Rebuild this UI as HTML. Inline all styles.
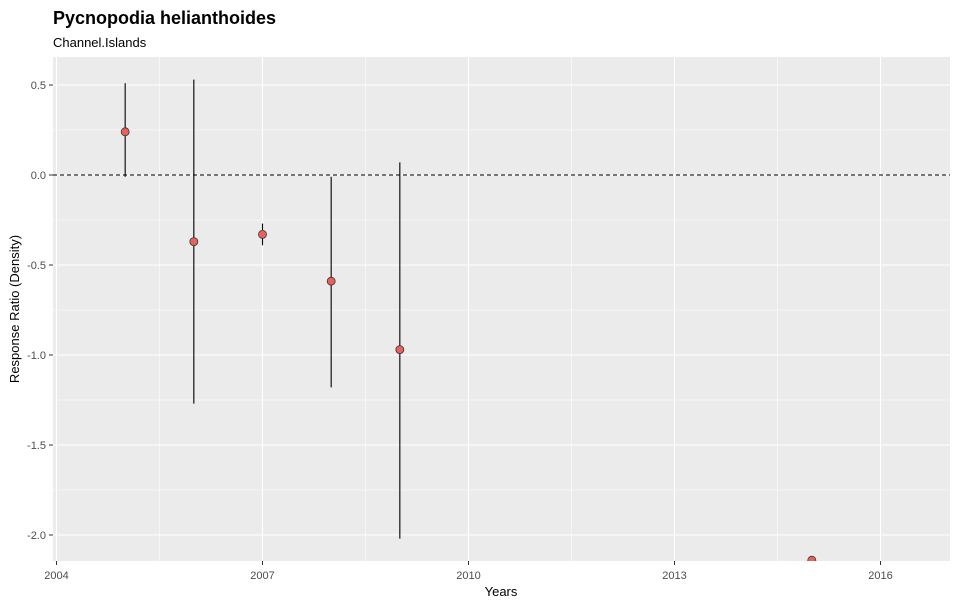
<!DOCTYPE html>
<html><head><meta charset="utf-8"><style>
body{margin:0;background:#fff;}
svg text{font-family:"Liberation Sans",sans-serif;}
</style></head><body>
<svg id="chart" width="958" height="606">
<text x="53" y="24" font-size="18" font-weight="bold" fill="#000">Pycnopodia helianthoides</text>
<text x="53" y="47" font-size="13" fill="#000">Channel.Islands</text>
<rect x="53" y="57" width="897" height="504" fill="#ebebeb"/>
<g id="grid"></g><g id="axes"></g><g id="marks"></g>
<text x="501" y="596" font-size="13" text-anchor="middle" fill="#000">Years</text>
<text transform="translate(19,309) rotate(-90)" font-size="13" text-anchor="middle" fill="#000">Response Ratio (Density)</text>
</svg>
<script>
const years=[2005,2006,2007,2008,2009,2015];
const means=[0.24,-0.37,-0.33,-0.59,-0.97,-2.14];
const lower=[-0.01,-1.27,-0.39,-1.18,-2.02,-2.14];
const upper=[0.51,0.53,-0.27,-0.01,0.07,-2.14];
const xTicks=[2004,2007,2010,2013,2016];
const yTicks=[0.5,0,-0.5,-1,-1.5,-2];
const yTickLabels=["0.5","0.0","-0.5","-1.0","-1.5","-2.0"];
const NS="http://www.w3.org/2000/svg";
const X=v=>56.5+(v-2004)*(206/3);
const Y=v=>175-(v)*180;
const PL=53,PR=950,PT=57,PB=561;
function mk(tag,attrs,parent){const e=document.createElementNS(NS,tag);for(const k in attrs)e.setAttribute(k,attrs[k]);parent.appendChild(e);return e;}
const grid=document.getElementById('grid'),axes=document.getElementById('axes'),marks=document.getElementById('marks');
for(let i=0;i<xTicks.length;i++){
 const v=xTicks[i];
 let g=mk('line',{x1:X(v),x2:X(v),y1:PT,y2:PB,stroke:'#fff','stroke-width':1.1},grid);
 
 if(i<xTicks.length-1){let m=mk('line',{x1:X(v+1.5),x2:X(v+1.5),y1:PT,y2:PB,stroke:'#fff','stroke-width':0.55},grid);
 }
 let t=mk('line',{x1:X(v),x2:X(v),y1:PB,y2:PB+4,stroke:'#333'},axes);
 
 let l=mk('text',{x:X(v),y:PB+18,'font-size':11,'text-anchor':'middle',fill:'#4d4d4d'},axes);l.textContent=v;
 
}
for(let i=0;i<yTicks.length;i++){
 const v=yTicks[i];
 let g=mk('line',{x1:PL,x2:PR,y1:Y(v),y2:Y(v),stroke:'#fff','stroke-width':1.1},grid);
 
 let m=mk('line',{x1:PL,x2:PR,y1:Y(v-0.25),y2:Y(v-0.25),stroke:'#fff','stroke-width':0.55},grid);
 
 if(i==0){let m2=mk('line',{x1:PL,x2:PR,y1:Y(v+0.25)+1,y2:Y(v+0.25)+1,stroke:'#fff','stroke-width':0},grid);}
 let t=mk('line',{x1:PL-4,x2:PL,y1:Y(v),y2:Y(v),stroke:'#333'},axes);
 
 let l=mk('text',{x:PL-7,y:Y(v)+4,'font-size':11,'text-anchor':'end',fill:'#4d4d4d'},axes);l.textContent=yTickLabels[i];
 
}
let z=mk('line',{x1:PL,x2:PR,y1:Y(0),y2:Y(0),stroke:'#000','stroke-dasharray':'4,3'},marks);

mk('clipPath',{id:'clip'},marks).appendChild(Object.assign(document.createElementNS(NS,'rect')));
document.querySelector('#clip rect').setAttribute('x',PL);document.querySelector('#clip rect').setAttribute('y',PT);
document.querySelector('#clip rect').setAttribute('width',PR-PL);document.querySelector('#clip rect').setAttribute('height',PB-PT);
const cg=mk('g',{'clip-path':'url(#clip)'},marks);
for(let i=0;i<years.length;i++){
 let e=mk('line',{x1:X(years[i]),x2:X(years[i]),y1:Y(upper[i]),y2:Y(lower[i]),stroke:'#000','stroke-width':1.1},cg);
 
 let c=mk('circle',{cx:X(years[i]),cy:Y(means[i]),r:4,fill:'#e8625b',stroke:'#333','stroke-width':0.8},cg);
 
}
</script>
</body></html>
